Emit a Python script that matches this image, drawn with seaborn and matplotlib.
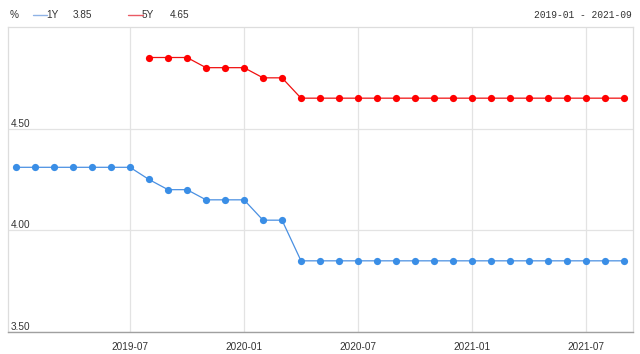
import matplotlib
matplotlib.use("Agg")
import matplotlib.pyplot as plt
import seaborn as sns
import pandas as pd
import numpy as np
from matplotlib.lines import Line2D

months = ["2019-01","2019-02","2019-03","2019-04","2019-05","2019-06","2019-07","2019-08",
          "2019-09","2019-10","2019-11","2019-12","2020-01","2020-02","2020-03","2020-04",
          "2020-05","2020-06","2020-07","2020-08","2020-09","2020-10","2020-11","2020-12",
          "2021-01","2021-02","2021-03","2021-04","2021-05","2021-06","2021-07","2021-08","2021-09"]
lpr_1y = [4.31,4.31,4.31,4.31,4.31,4.31,4.31,4.25,4.20,4.20,4.15,4.15,4.15,4.05,4.05,
          3.85,3.85,3.85,3.85,3.85,3.85,3.85,3.85,3.85,3.85,3.85,3.85,3.85,3.85,3.85,3.85,3.85,3.85]
lpr_5y = [np.nan]*7 + [4.85,4.85,4.85,4.80,4.80,4.80,4.75,4.75,
          4.65,4.65,4.65,4.65,4.65,4.65,4.65,4.65,4.65,4.65,4.65,4.65,4.65,4.65,4.65,4.65,4.65,4.65]
xtick_labels = ["2019-07","2020-01","2020-07","2021-01","2021-07"]
ytick_values = [3.50, 4.00, 4.50]
ytick_labels = ["3.50", "4.00", "4.50"]
legend_names = ["1Y", "5Y"]
legend_values = ["3.85", "4.65"]
range_text = "2019-01 - 2021-09"

sns.set_style("white")
plt.rcParams['font.family'] = ['Liberation Sans', 'DejaVu Sans']

df = pd.DataFrame({"month": months, "1Y": lpr_1y, "5Y": lpr_5y})
df["i"] = np.arange(len(df))

W, H = 640, 354
fig = plt.figure(figsize=(6.4, 3.54), dpi=100)
ax = fig.add_axes([8/W, 1-332/H, (633-8)/W, (332-27)/H])

blue_line = "#4a90e2"
blue_mk = "#3a8ee6"
red_line = "#f01010"
red_mk = "#ff0000"

sns.lineplot(data=df, x="i", y="1Y", ax=ax, color=blue_line, linewidth=0.9,
             marker="o", markersize=5.2, markeredgewidth=0, markerfacecolor=blue_mk)
sns.lineplot(data=df.dropna(), x="i", y="5Y", ax=ax, color=red_line, linewidth=0.9,
             marker="o", markersize=5.2, markeredgewidth=0, markerfacecolor=red_mk)

ax.set_xlim(-0.42, len(months) - 1 + 0.47)
ax.set_ylim(3.5, 5.0)
xt = [months.index(m) for m in xtick_labels]
ax.set_xticks(xt)
ax.set_xticklabels(xtick_labels, fontsize=7.2, color="#333333")
ax.tick_params(axis="x", length=0, pad=7)
ax.set_yticks(ytick_values)
ax.set_yticklabels([])
ax.tick_params(axis="y", length=0)
ax.set_xlabel("")
ax.set_ylabel("")
ax.grid(True, color="#e3e3e3", linewidth=0.9)
ax.set_axisbelow(True)
for s in ["left", "top", "right"]:
    ax.spines[s].set_color("#dddddd")
    ax.spines[s].set_linewidth(0.9)
ax.spines["bottom"].set_color("#a0a0a0")
ax.spines["bottom"].set_linewidth(1.0)

for v, lab in zip(ytick_values, ytick_labels):
    ax.text(0.004, v, lab, transform=ax.get_yaxis_transform(), fontsize=7.2,
            color="#333333", ha="left", va="bottom")

# header
def px(x, y):
    return x / W, 1 - y / H

fig.text(*px(10, 15), "%", fontsize=7.2, color="#333333", ha="left", va="center")
leg_cols = [("#8fb3e6", 33, 46, 73), ("#ea5a64", 128, 142, 170)]
for (c, x0, x1, xv), name, val in zip(leg_cols, legend_names, legend_values):
    fig.add_artist(Line2D([x0/W, (x1+1)/W], [1-15/H, 1-15/H], color=c, linewidth=1.0))
    fig.text(*px(x1, 15), name, fontsize=7.2, color="#333333", ha="left", va="center")
    fig.text(*px(xv, 15), val, fontsize=7.2, color="#333333", ha="left", va="center")
fig.text(*px(632, 15), range_text, fontsize=6.9, color="#333333", ha="right", va="center",
         family=["Liberation Mono", "DejaVu Sans Mono"])

fig.savefig("out.png", dpi=100)
